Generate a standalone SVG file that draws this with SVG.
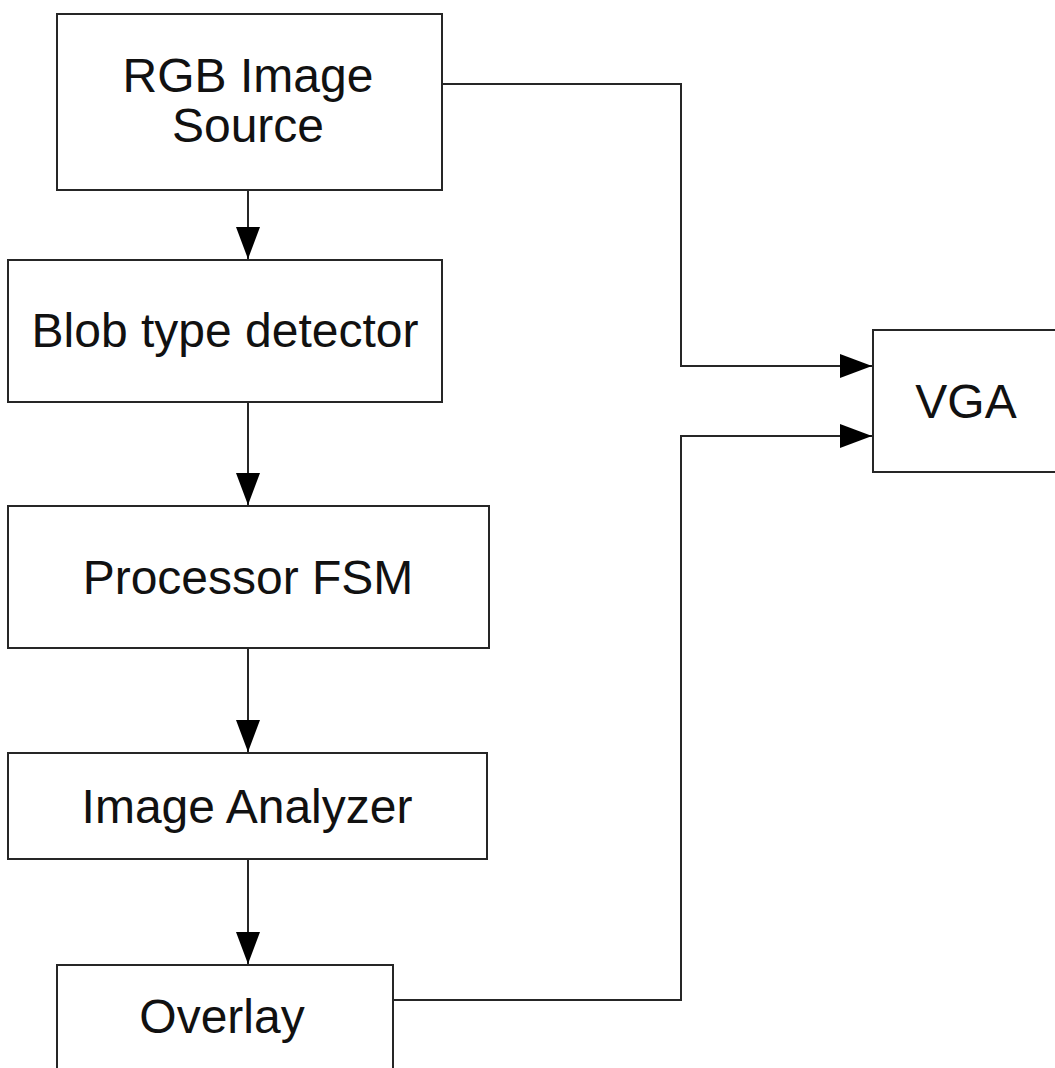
<svg xmlns="http://www.w3.org/2000/svg" width="1055" height="1068" viewBox="0 0 1055 1068">
<style>
.box{fill:#ffffff;stroke:#262626;stroke-width:2}
.lbl{font-family:"Liberation Sans",Arial,sans-serif;font-size:48px;fill:#111111;text-anchor:middle}
.wire{fill:none;stroke:#262626;stroke-width:2;marker-end:url(#arr)}
</style>
<defs>
<marker id="arr" viewBox="0 0 32 24" refX="32" refY="12" markerWidth="32" markerHeight="24" markerUnits="userSpaceOnUse" orient="auto">
<path d="M0,0 L32,12 L0,24 Z" fill="#000000"/>
</marker>
</defs>
<rect width="1055" height="1068" fill="#ffffff"/>
<g id="connectors">
<path class="wire" d="M248,190 V259"/>
<path class="wire" d="M248,402 V505"/>
<path class="wire" d="M248,648 V752"/>
<path class="wire" d="M248,859 V964"/>
<path class="wire" d="M442,84 H681 V366 H872"/>
<path class="wire" d="M393,1000 H681 V436 H872"/>
</g>
<g id="rgb-image-source">
<rect class="box" x="57" y="14" width="385" height="176"/>
<text class="lbl" x="248" y="92">RGB Image</text>
<text class="lbl" x="248" y="142">Source</text>
</g>
<g id="blob-type-detector">
<rect class="box" x="8" y="260" width="434" height="142"/>
<text class="lbl" x="225" y="347">Blob type detector</text>
</g>
<g id="processor-fsm">
<rect class="box" x="8" y="506" width="481" height="142"/>
<text class="lbl" x="248" y="594">Processor FSM</text>
</g>
<g id="image-analyzer">
<rect class="box" x="8" y="753" width="479" height="106"/>
<text class="lbl" x="247" y="823">Image Analyzer</text>
</g>
<g id="overlay">
<rect class="box" x="57" y="965" width="336" height="130"/>
<text class="lbl" x="222" y="1033">Overlay</text>
</g>
<g id="vga">
<rect class="box" x="873" y="330" width="190" height="142"/>
<text class="lbl" x="966" y="418">VGA</text>
</g>
</svg>
